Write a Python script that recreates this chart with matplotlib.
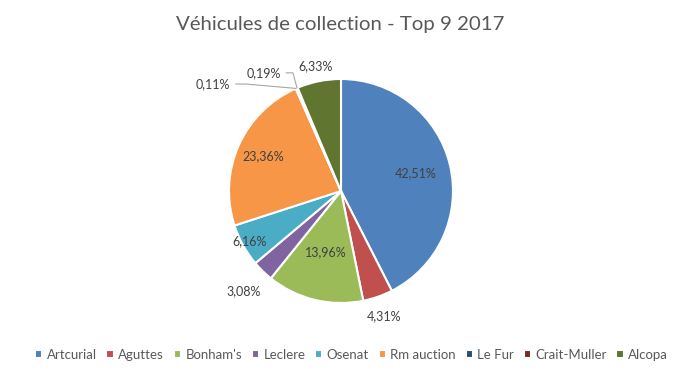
import matplotlib.pyplot as plt
import numpy as np

# Parts de marché - véhicules de collection, top 9 2017 (%)
houses = ["Artcurial", "Aguttes", "Bonham's", "Leclere", "Osenat",
          "Rm auction", "Le Fur", "Crait-Muller", "Alcopa"]
shares = [42.51, 4.31, 13.96, 3.08, 6.16, 23.36, 0.11, 0.19, 6.33]
labels = ["42,51%", "4,31%", "13,96%", "3,08%", "6,16%",
          "23,36%", "0,11%", "0,19%", "6,33%"]

colors = ["#4F81BD", "#C0504D", "#9BBB59", "#8064A2", "#4BACC6",
          "#F79646", "#2C4D75", "#772C2A", "#5F7530"]

plt.rcParams['font.family'] = ['Lato', 'DejaVu Sans']

fig = plt.figure(figsize=(6.8, 3.77), dpi=100)
R = 112  # pie radius in pixels
half = 150
ax = fig.add_axes([(341 - half) / 680, (377 - 191 - half) / 377, 2 * half / 680, 2 * half / 377])

wedges, _ = ax.pie(shares, colors=colors, startangle=90, counterclock=False,
                   radius=1.0, wedgeprops=dict(edgecolor='white', linewidth=1.5))
lim = half / R
ax.set_xlim(-lim, lim)
ax.set_ylim(-lim, lim)
ax.set_aspect('equal')
ax.axis('off')

# radial position of each label (fraction of radius)
rpos = [0.69, 1.18, 0.56, 1.25, 0.93, 0.76, None, None, 1.14]
for w, lab, r in zip(wedges, labels, rpos):
    ang = np.deg2rad((w.theta1 + w.theta2) / 2)
    if r is None:
        continue
    ax.text(r * np.cos(ang), r * np.sin(ang), lab, ha='center', va='center',
            fontsize=9, color='#404040')

# tiny slices with leader lines (text right edge position, corner angle)
for w, lab, pos, angB in [(wedges[6], labels[6], (-0.99, 0.955), 175),
                          (wedges[7], labels[7], (-0.54, 1.055), 105)]:
    ang = np.deg2rad((w.theta1 + w.theta2) / 2)
    xy = (np.cos(ang), np.sin(ang))
    ax.annotate(lab, xy=xy, xytext=pos, ha='right', va='center', fontsize=9, color='#404040',
                arrowprops=dict(arrowstyle='-', color='#A6A6A6', lw=0.8,
                                shrinkA=2, shrinkB=0,
                                connectionstyle=f"angle,angleA=0,angleB={angB},rad=0"))

fig.text(0.5, 0.935, "Véhicules de collection - Top 9 2017", ha='center', va='center',
         fontsize=14.7, color='#595959')

fig.legend(wedges, houses, loc='center', bbox_to_anchor=(0.517, 0.058), ncol=9,
           frameon=False, fontsize=9.5, handlelength=0.55, handleheight=0.55,
           handletextpad=0.35, columnspacing=0.72, labelcolor='#595959')

fig.savefig("out.png", dpi=100)
